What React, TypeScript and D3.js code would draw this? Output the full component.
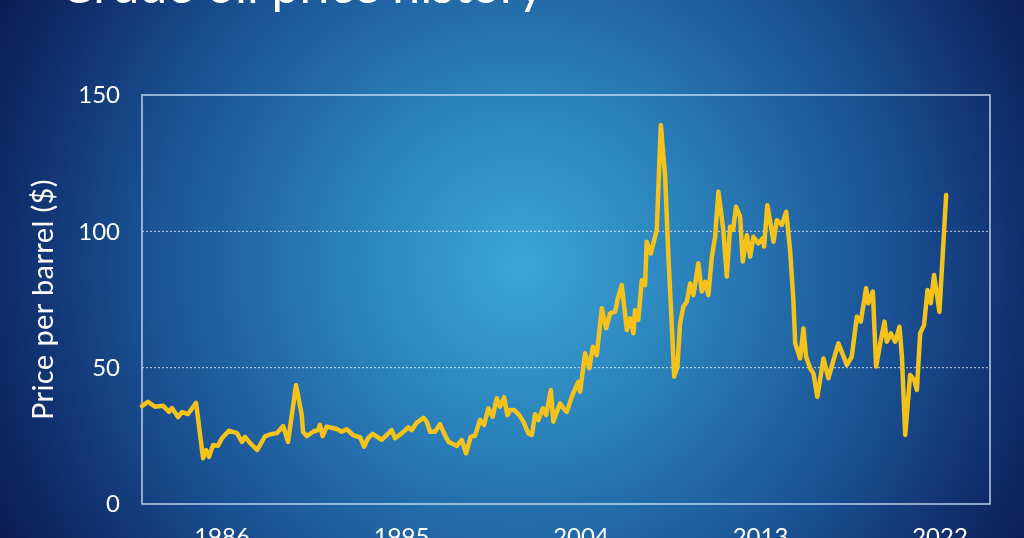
import React from "react";
import * as d3 from "d3";

// Decimal year of each reading
const years: number[] = [
  1983.0, 1983.29, 1983.63, 1984.03, 1984.32, 1984.46, 1984.76, 1984.95, 1985.25, 1985.64,
  1985.98, 1986.13, 1986.27, 1986.47, 1986.71, 1986.91, 1987.25, 1987.64, 1987.88, 1988.03,
  1988.27, 1988.62, 1989.01, 1989.35, 1989.59, 1989.89, 1990.13, 1990.52, 1990.8, 1990.86,
  1991.04, 1991.35, 1991.59, 1991.69, 1991.82, 1992.02, 1992.51, 1992.75, 1993.0, 1993.3,
  1993.65, 1993.84, 1994.04, 1994.26, 1994.7, 1995.19, 1995.35, 1995.68, 1996.0, 1996.17,
  1996.41, 1996.74, 1996.9, 1997.06, 1997.31, 1997.55, 1997.75, 1997.96, 1998.37, 1998.61,
  1998.82, 1999.05, 1999.26, 1999.5, 1999.7, 1999.91, 2000.12, 2000.32, 2000.48, 2000.68,
  2000.84, 2000.97, 2001.16, 2001.42, 2001.62, 2001.86, 2002.03, 2002.19, 2002.35, 2002.57,
  2002.73, 2002.96, 2003.08, 2003.25, 2003.41, 2003.57, 2003.74, 2003.98, 2004.19, 2004.3,
  2004.39, 2004.63, 2004.84, 2005.01, 2005.2, 2005.45, 2005.66, 2005.85, 2006.1, 2006.21,
  2006.42, 2006.58, 2006.67, 2006.83, 2006.99, 2007.07, 2007.23, 2007.4, 2007.56, 2007.64,
  2007.84, 2008.13, 2008.33, 2008.54, 2008.7, 2008.86, 2008.98, 2009.14, 2009.27, 2009.43,
  2009.6, 2009.76, 2009.92, 2010.16, 2010.33, 2010.49, 2010.65, 2010.82, 2010.98, 2011.14,
  2011.38, 2011.55, 2011.71, 2011.86, 2012.0, 2012.2, 2012.33, 2012.53, 2012.69, 2012.85,
  2013.09, 2013.31, 2013.37, 2013.53, 2013.83, 2013.99, 2014.24, 2014.45, 2014.64, 2014.8,
  2014.89, 2015.13, 2015.29, 2015.42, 2015.62, 2015.78, 2015.97, 2016.27, 2016.51, 2016.76,
  2017.0, 2017.41, 2017.65, 2017.9, 2018.09, 2018.35, 2018.46, 2018.68, 2018.84, 2019.04,
  2019.25, 2019.36, 2019.56, 2019.77, 2019.98, 2020.1, 2020.26, 2020.5, 2020.7, 2020.83,
  2020.99, 2021.18, 2021.35, 2021.51, 2021.67, 2021.8, 2021.93, 2022.26,
];

// Price per barrel ($)
const prices: number[] = [
  35.9, 37.5, 35.7, 36.0, 33.8, 35.2, 31.9, 33.7, 33.0, 37.1,
  16.8, 19.8, 17.3, 21.6, 21.4, 24.2, 26.9, 26.0, 22.8, 24.6,
  22.4, 19.8, 24.9, 25.7, 26.0, 28.6, 22.8, 43.6, 32.6, 26.5,
  24.9, 26.5, 27.1, 29.0, 24.9, 28.4, 27.5, 26.5, 27.4, 25.3,
  24.4, 21.0, 24.2, 25.7, 23.5, 27.1, 24.1, 25.9, 28.1, 27.1,
  29.8, 31.6, 30.2, 26.5, 26.5, 29.3, 25.9, 22.8, 21.3, 23.5,
  18.6, 24.7, 25.0, 30.8, 29.0, 35.1, 32.0, 38.8, 35.7, 39.1,
  32.6, 34.5, 34.5, 32.6, 30.2, 25.9, 25.3, 32.9, 30.8, 35.1,
  32.6, 41.8, 30.2, 33.8, 36.9, 35.1, 33.8, 39.3, 43.0, 44.8,
  41.2, 55.3, 49.8, 57.7, 54.6, 71.8, 64.4, 69.9, 70.5, 74.8,
  80.3, 69.9, 63.8, 68.1, 62.6, 71.1, 67.5, 82.1, 80.3, 96.2,
  91.9, 100.5, 139.0, 120.0, 90.7, 66.3, 46.7, 50.4, 66.3, 72.4,
  74.2, 80.9, 76.6, 88.3, 77.9, 81.5, 76.6, 90.7, 98.0, 114.5,
  100.5, 83.4, 101.7, 100.5, 109.0, 105.4, 88.9, 98.6, 90.7, 98.0,
  95.6, 97.5, 94.4, 109.6, 96.2, 104.1, 102.3, 107.2, 93.1, 74.8,
  58.9, 53.4, 64.4, 54.0, 49.8, 47.9, 39.3, 53.4, 46.1, 52.8,
  58.9, 51.0, 54.0, 68.7, 66.9, 79.1, 73.6, 77.9, 50.4, 58.9,
  66.9, 59.5, 62.6, 59.5, 65.0, 54.0, 25.3, 47.3, 45.5, 41.8,
  62.6, 65.6, 78.5, 73.6, 84.0, 77.3, 70.5, 113.3,
];

const yTicks: number[] = [0, 50, 100, 150];
const gridValues: number[] = [50, 100];
const xLabels: string[] = ["1986", "1995", "2004", "2013", "2022"];

const title = "Crude oil price history";
const yTitle = "Price per barrel ($)";

const W = 1024;
const H = 538;
const FONT = "Lato, 'Open Sans', sans-serif";

export default function App() {
  const left = 142, right = 990, top = 95, bottom = 504;
  const x = d3.scaleLinear().domain([1983, 2024.4]).range([left, right]);
  const y = d3.scaleLinear().domain([0, 150]).range([bottom, top]);
  const xl = d3.scalePoint<string>().domain(xLabels).range([222, 940]);

  const data = years.map((yr, i) => [yr, prices[i]] as [number, number]);
  const line = d3
    .line<[number, number]>()
    .x((d) => x(d[0]))
    .y((d) => y(d[1]));

  return (
    <svg
      width={W}
      height={H}
      style={{ position: "fixed", left: 0, top: 0, display: "block" }}
    >
      <defs>
        <radialGradient id="bg" gradientUnits="userSpaceOnUse" cx={520} cy={265} r={600}>
          <stop offset="0" stopColor="#3ba6d9" />
          <stop offset="0.3" stopColor="#2a80b9" />
          <stop offset="0.62" stopColor="#1a5294" />
          <stop offset="0.85" stopColor="#102d6b" />
          <stop offset="1" stopColor="#0a1a4e" />
        </radialGradient>
      </defs>
      <rect x={0} y={0} width={W} height={H} fill="url(#bg)" />

      <text
        x={60}
        y={3}
        fill="#ffffff"
        fontFamily={FONT}
        fontSize={50}
        fontWeight={400}
      >
        {title}
      </text>

      {gridValues.map((v) => (
        <line
          key={v}
          x1={left}
          x2={right}
          y1={y(v)}
          y2={y(v)}
          stroke="#ffffff"
          strokeOpacity={0.75}
          strokeWidth={1}
          strokeDasharray="2,2"
        />
      ))}

      <rect
        x={left}
        y={top}
        width={right - left}
        height={bottom - top}
        fill="none"
        stroke="#d6ebf8"
        strokeOpacity={0.85}
        strokeWidth={1.5}
      />

      {yTicks.map((v) => (
        <text
          key={v}
          x={120}
          y={y(v)}
          dy="0.35em"
          textAnchor="end"
          fill="#ffffff"
          fontFamily={FONT}
          fontSize={24}
        >
          {v}
        </text>
      ))}

      {xLabels.map((l) => (
        <text
          key={l}
          x={xl(l)}
          y={545}
          textAnchor="middle"
          fill="#ffffff"
          fontFamily={FONT}
          fontSize={24}
        >
          {l}
        </text>
      ))}

      <text
        transform={`translate(53,${(top + bottom) / 2}) rotate(-90)`}
        textAnchor="middle"
        fill="#ffffff"
        fontFamily={FONT}
        fontSize={29}
        letterSpacing={0.4}
      >
        {yTitle}
      </text>

      <path
        d={line(data) || ""}
        fill="none"
        stroke="#f5c21c"
        strokeWidth={4.5}
        strokeLinejoin="round"
        strokeLinecap="round"
      />
    </svg>
  );
}
